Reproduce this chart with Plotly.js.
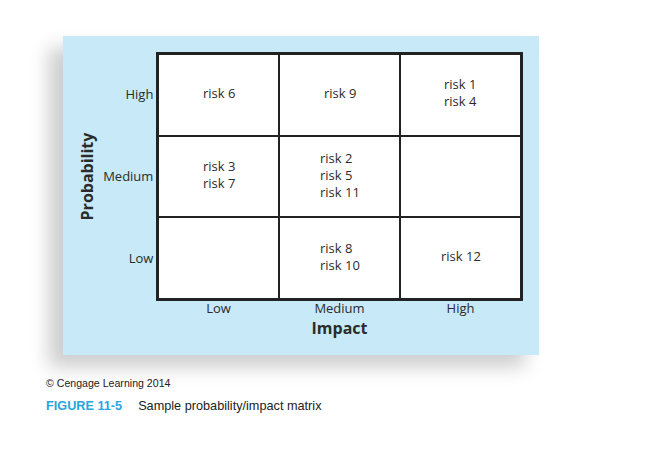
<!DOCTYPE html>
<html>
<head>
<meta charset="utf-8">
<script src="https://cdn.plot.ly/plotly-3.0.1.min.js"></script>
<style>
  html, body { margin: 0; padding: 0; background: #ffffff; width: 653px; height: 454px; overflow: hidden; }
  #panel { position: absolute; left: 63px; top: 36px; width: 476px; height: 319px; background: #c7e9f8;
           box-shadow: -14px 12px 18px rgba(0,0,0,0.20); }
  #chart { position: absolute; left: 0; top: 0; width: 653px; height: 454px; }
  .cap { position: absolute; font-family: "Liberation Sans", Arial, sans-serif; color: #222; white-space: nowrap; }
  #credit { left: 46px; top: 377px; font-size: 10.6px; }
  #fig { left: 46px; top: 399px; font-size: 12.7px; }
  #fig b { color: #27a6df; margin-right: 16px; }
</style>
</head>
<body>
<div id="panel"></div>
<div id="chart"></div>
<div id="credit" class="cap">© Cengage Learning 2014</div>
<div id="fig" class="cap"><b>FIGURE 11-5</b>Sample probability/impact matrix</div>
<script>
// Categories
const impactLevels = ['Low', 'Medium', 'High'];
const probabilityLevels = ['Low', 'Medium', 'High'];

// Risks placed in each cell (impact, probability)
const cellImpact = ['Low', 'Medium', 'High', 'Low', 'Medium', 'High', 'Low', 'Medium', 'High'];
const cellProbability = ['High', 'High', 'High', 'Medium', 'Medium', 'Medium', 'Low', 'Low', 'Low'];
const cellRisks = [
  ['risk 6'],
  ['risk 9'],
  ['risk 1', 'risk 4'],
  ['risk 3', 'risk 7'],
  ['risk 2', 'risk 5', 'risk 11'],
  [],
  [],
  ['risk 8', 'risk 10'],
  ['risk 12']
];

const FONT = '"Open Sans", "Noto Sans", sans-serif';
const z = probabilityLevels.map(() => impactLevels.map(() => 0));

const trace = {
  type: 'heatmap',
  x: impactLevels,
  y: probabilityLevels,
  z: z,
  colorscale: [[0, '#ffffff'], [1, '#ffffff']],
  showscale: false,
  xgap: 2,
  ygap: 2,
  hoverinfo: 'skip'
};

const annotations = cellRisks.map((risks, i) => ({
  x: cellImpact[i],
  y: cellProbability[i],
  xref: 'x', yref: 'y',
  yshift: 2,
  text: risks.join('<br>'),
  showarrow: false,
  align: 'left',
  font: { family: FONT, size: 13, color: '#2b2b2b' }
})).filter(a => a.text !== '');

const layout = {
  width: 653,
  height: 454,
  margin: { l: 158, r: 132, t: 54, b: 155, pad: 0 },
  paper_bgcolor: 'rgba(0,0,0,0)',
  plot_bgcolor: '#222222',
  showlegend: false,
  font: { family: FONT, size: 13, color: '#2b2b2b' },
  xaxis: {
    type: 'category',
    categoryorder: 'array',
    categoryarray: impactLevels,
    showgrid: false, zeroline: false,
    showline: true, mirror: true, linewidth: 2, linecolor: '#222222',
    ticks: '',
    ticklabelstandoff: -4,
    tickfont: { family: FONT, size: 13, color: '#2b2b2b' },
    title: { text: '<b>Impact</b>', font: { family: FONT, size: 16, color: '#2b2b2b' }, standoff: 4 },
    fixedrange: true
  },
  yaxis: {
    type: 'category',
    categoryorder: 'array',
    categoryarray: probabilityLevels,
    showgrid: false, zeroline: false,
    showline: true, mirror: true, linewidth: 2, linecolor: '#222222',
    ticks: '',
    tickfont: { family: FONT, size: 13, color: '#2b2b2b' },
    title: { text: '<b>Probability</b>', font: { family: FONT, size: 16, color: '#2b2b2b' }, standoff: 6 },
    fixedrange: true
  },
  annotations: annotations
};

Plotly.newPlot('chart', [trace], layout, { displayModeBar: false, staticPlot: true });
</script>
</body>
</html>
